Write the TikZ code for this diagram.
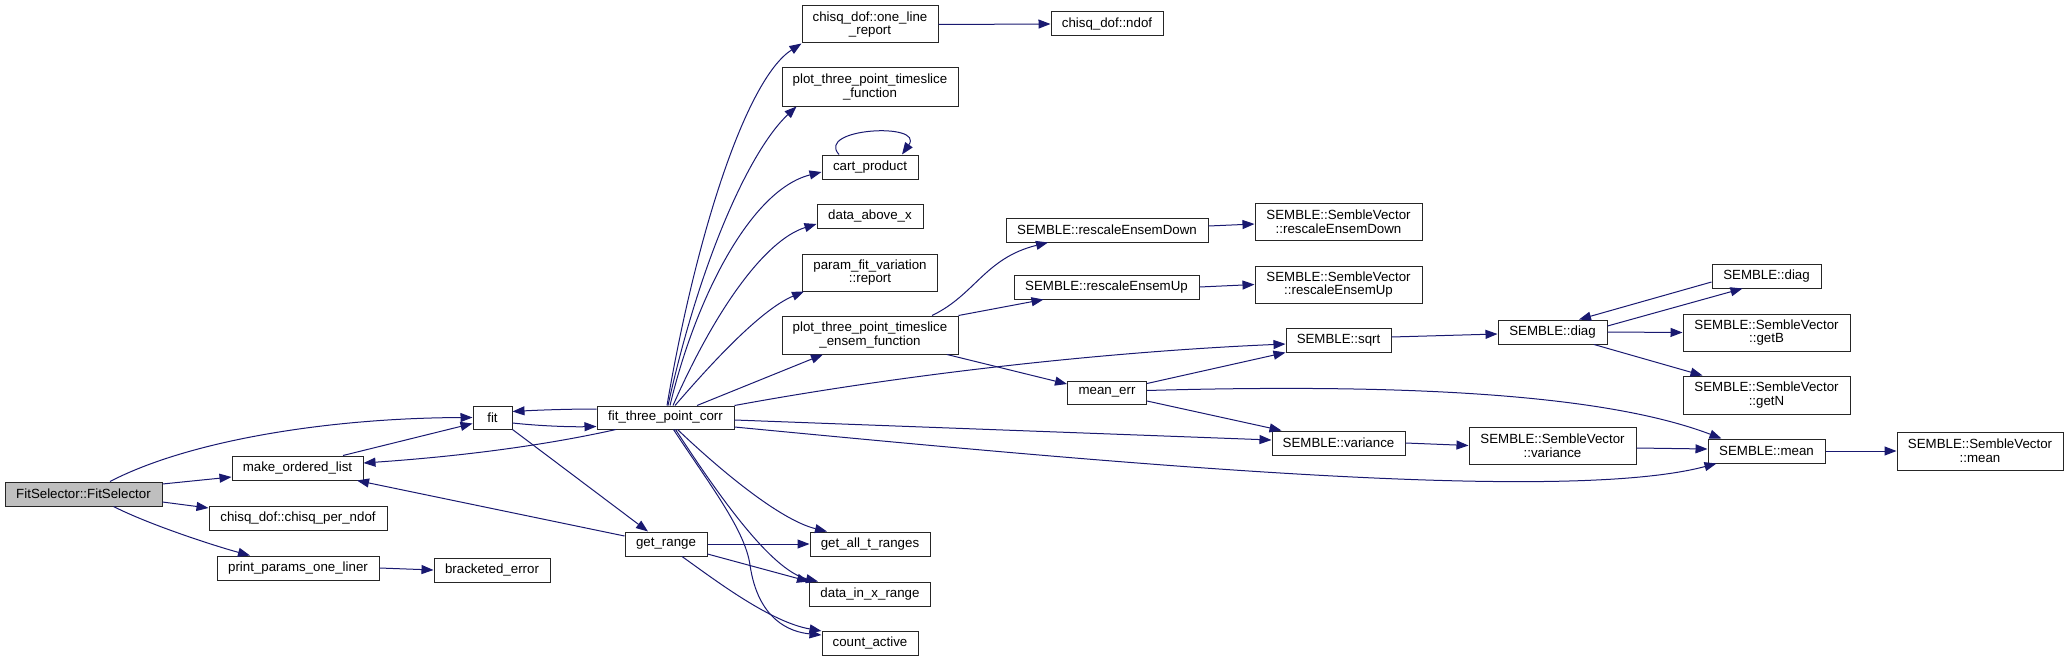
\documentclass[tikz,border=0pt]{standalone}
\usepackage{fontspec}
\setmainfont{Liberation Sans}
\usetikzlibrary{arrows.meta}
\definecolor{edgeblue}{HTML}{191970}
\definecolor{rootgray}{HTML}{BFBFBF}
\begin{document}
\begin{tikzpicture}[x=1pt,y=-1pt,
  nd/.style={draw=black!85, line width=1pt, fill=white, inner sep=0pt, align=center,
             font=\fontsize{13.3}{13.8}\selectfont},
  wh/.style 2 args={minimum width=#1pt, minimum height=#2pt},
  ed/.style={draw=edgeblue, line width=1pt, -{Triangle[length=12pt,width=9pt,fill=edgeblue]}}]
\useasboundingbox (0,0) rectangle (2069,661);

% nodes
\node[nd, wh={157}{24}, fill=rootgray] (root) at (83.5,494) {FitSelector::FitSelector};
\node[nd, wh={131}{24}] (mol) at (297.5,468) {make\_ordered\_list};
\node[nd, wh={178}{24}] (cpn) at (298,518) {chisq\_dof::chisq\_per\_ndof};
\node[nd, wh={162}{24}] (ppo) at (298,568) {print\_params\_one\_liner};
\node[nd, wh={116}{24}] (be) at (492,570) {bracketed\_error};
\node[nd, wh={39}{23}] (fit) at (492.5,417.5) {fit};
\node[nd, wh={137}{23}] (ftc) at (665.5,417.5) {fit\_three\_point\_corr};
\node[nd, wh={82}{24}] (gr) at (666,544) {get\_range};
\node[nd, wh={120}{24}] (gat) at (870,544) {get\_all\_t\_ranges};
\node[nd, wh={121}{24}] (dix) at (870,594) {data\_in\_x\_range};
\node[nd, wh={96}{24}] (ca) at (870,643) {count\_active};
\node[nd, wh={136}{37}] (olr) at (870,24.5) {chisq\_dof::one\_line\\\_report};
\node[nd, wh={176}{38}] (ptf) at (870,87) {plot\_three\_point\_timeslice\\\_function};
\node[nd, wh={96}{24}] (cp) at (870,167) {cart\_product};
\node[nd, wh={106}{24}] (dax) at (870,216) {data\_above\_x};
\node[nd, wh={135}{37}] (pfv) at (870,272.5) {param\_fit\_variation\\::report};
\node[nd, wh={176}{38}] (pte) at (870,335) {plot\_three\_point\_timeslice\\\_ensem\_function};
\node[nd, wh={112}{24}] (ndof) at (1107,24) {chisq\_dof::ndof};
\node[nd, wh={202}{24}] (rdn) at (1107,230) {SEMBLE::rescaleEnsemDown};
\node[nd, wh={167}{37}] (svrd) at (1338.5,221.5) {SEMBLE::SembleVector\\::rescaleEnsemDown};
\node[nd, wh={185}{24}] (rup) at (1106.5,287) {SEMBLE::rescaleEnsemUp};
\node[nd, wh={167}{37}] (svru) at (1338.5,284.5) {SEMBLE::SembleVector\\::rescaleEnsemUp};
\node[nd, wh={105}{24}] (sqrt) at (1338.5,340) {SEMBLE::sqrt};
\node[nd, wh={79}{23}] (me) at (1107,392.5) {mean\_err};
\node[nd, wh={133}{24}] (var) at (1338.5,443) {SEMBLE::variance};
\node[nd, wh={167}{37}] (svv) at (1552.5,445.5) {SEMBLE::SembleVector\\::variance};
\node[nd, wh={109}{24}] (diag) at (1552.5,332) {SEMBLE::diag};
\node[nd, wh={109}{24}] (diagb) at (1766.5,276) {SEMBLE::diag};
\node[nd, wh={167}{37}] (getb) at (1766.5,332.5) {SEMBLE::SembleVector\\::getB};
\node[nd, wh={167}{38}] (getn) at (1766.5,395) {SEMBLE::SembleVector\\::getN};
\node[nd, wh={117}{24}] (mean) at (1766.5,451) {SEMBLE::mean};
\node[nd, wh={166}{38}] (svm) at (1980,451) {SEMBLE::SembleVector\\::mean};

% edges from root
\draw[ed] ([xshift=26.5pt]root.north) .. controls (190,440) and (330,418) .. (fit.west);
\draw[ed] ([yshift=10pt]root.east) -- ([yshift=-9pt]mol.west);
\draw[ed] ([yshift=-8pt]root.east) -- ([yshift=10pt]cpn.west);
\draw[ed] ([xshift=30pt]root.south) .. controls (150,525) and (215,546) .. ([xshift=-48pt]ppo.north);
\draw[ed] (ppo.east) -- (be.west);

% fit / make_ordered_list / get_range
\draw[ed] ([xshift=45.5pt]mol.north) -- ([yshift=-6pt]fit.west);
\draw[ed] ([yshift=-5.5pt]fit.east) .. controls (540,426) and (570,427) .. ([yshift=-9pt]ftc.west);
\draw[ed] ([yshift=8.5pt]ftc.west) .. controls (570,409) and (540,410) .. ([yshift=6pt]fit.east);
\draw[ed] ([xshift=-49.5pt]ftc.south) .. controls (560,442) and (480,455) .. ([yshift=5pt]mol.east);
\draw[ed] ([yshift=8pt]gr.west) -- ([xshift=59.5pt]mol.south);
\draw[ed] (fit.south east) -- ([xshift=-18pt]gr.north);

% fit_three_point_corr upward
\draw[ed] ([xshift=1.5pt]ftc.north) .. controls (695,240) and (745,80) .. (olr.south west);
\draw[ed] ([xshift=2.5pt]ftc.north) .. controls (700,260) and (750,150) .. ([xshift=15pt]ptf.south west);
\draw[ed] ([xshift=4.5pt]ftc.north) .. controls (695,300) and (750,190) .. ([yshift=-5pt]cp.west);
\draw[ed] ([xshift=7.5pt]ftc.north) .. controls (715,310) and (765,240) .. ([yshift=-8pt]dax.west);
\draw[ed] ([xshift=9.5pt]ftc.north) .. controls (710,365) and (760,310) .. ([xshift=2pt]pfv.south west);
\draw[ed] ([xshift=31.5pt]ftc.north) -- ([xshift=-47pt]pte.south);

% fit_three_point_corr rightward
\draw[ed] (ftc.north east) .. controls (900,375) and (1100,352) .. ([yshift=-4pt]sqrt.west);
\draw[ed] ([yshift=-2.5pt]ftc.east) -- ([yshift=3pt]var.west);
\draw[ed] ([yshift=-9.5pt]ftc.east) .. controls (1100,462) and (1560,505) .. ([xshift=-50pt]mean.south);

% fit_three_point_corr downward
\draw[ed] ([xshift=12pt]ftc.south) .. controls (720,470) and (780,520) .. ([xshift=-43pt]gat.north);
\draw[ed] ([xshift=10pt]ftc.south) .. controls (715,490) and (770,570) .. ([xshift=-52pt]dix.north);
\draw[ed] ([xshift=8pt]ftc.south) .. controls (710,485) and (745,530) .. (750,565)
          .. controls (758,620) and (790,632) .. ([yshift=8pt]ca.west);

% get_range
\draw[ed] (gr.east) -- (gat.west);
\draw[ed] ([yshift=-10pt]gr.east) -- (dix.north west);
\draw[ed] ([xshift=16pt]gr.south) .. controls (715,580) and (770,622) .. ([yshift=12pt]ca.west);

% misc upper
\draw[ed] (olr.east) -- (ndof.west);
\draw[ed] ([xshift=-31pt]cp.north) .. controls (815,128) and (925,122) .. ([xshift=32pt]cp.north);

% plot ensem
\draw[ed] ([xshift=62pt]pte.north) .. controls (975,295) and (985,258) .. ([xshift=-59pt]rdn.south);
\draw[ed] (pte.north east) -- ([xshift=-63pt]rup.south);
\draw[ed] ([xshift=77pt]pte.south) -- ([yshift=8.5pt]me.west);
\draw[ed] ([yshift=4pt]rdn.east) -- ([yshift=-2.5pt]svrd.west);
\draw[ed] (rup.east) -- (svru.west);

% mean_err
\draw[ed] ([yshift=9pt]me.east) -- (sqrt.south west);
\draw[ed] ([yshift=-8.5pt]me.east) -- ([xshift=-57pt]var.north);
\draw[ed] ([yshift=2pt]me.east) .. controls (1450,382) and (1620,400) .. ([xshift=-45pt]mean.north);

% SEMBLE right side
\draw[ed] ([yshift=3pt]sqrt.east) -- ([yshift=-2pt]diag.west);
\draw[ed] (var.east) -- (svv.west);
\draw[ed] ([yshift=-2.5pt]svv.east) -- ([yshift=2pt]mean.west);
\draw[ed] (mean.east) -- (svm.west);
\draw[ed] ([yshift=6pt]diag.east) -- ([xshift=-24pt]diagb.south);
\draw[ed] ([yshift=-6pt]diagb.west) -- ([xshift=26.5pt]diag.north);
\draw[ed] (diag.east) -- (getb.west);
\draw[ed] ([xshift=41.5pt]diag.south) -- ([xshift=-64pt]getn.north);
\end{tikzpicture}
\end{document}
